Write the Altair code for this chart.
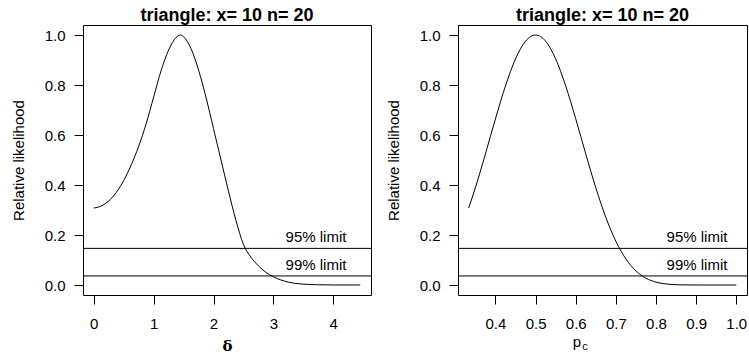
import altair as alt
import pandas as pd

# Left panel: relative likelihood as a function of delta
delta = [0.0, 0.125, 0.25, 0.375, 0.5, 0.625, 0.75, 0.875, 1.0, 1.125, 1.25, 1.375,
         1.45, 1.5, 1.625, 1.75, 1.875, 2.0, 2.125, 2.25, 2.375, 2.5, 2.625, 2.75,
         2.875, 3.0, 3.25, 3.5, 3.75, 4.0, 4.25, 4.45]
rl_delta = [0.308, 0.316, 0.336, 0.370, 0.418, 0.480, 0.555, 0.645, 0.752, 0.858,
            0.940, 0.990, 1.0, 0.993, 0.945, 0.860, 0.750, 0.625, 0.500, 0.375,
            0.258, 0.162, 0.111, 0.0766, 0.0505, 0.0328, 0.0115, 0.0034, 0.0009,
            0.0002, 0.00004, 0.00001]

# Right panel: relative likelihood as a function of pc
pc = [0.3333, 0.35, 0.375, 0.4, 0.425, 0.45, 0.475, 0.5, 0.525, 0.55, 0.575, 0.6,
      0.625, 0.65, 0.675, 0.7, 0.725, 0.75, 0.775, 0.8, 0.825, 0.85, 0.875, 0.9,
      0.95, 1.0]
rl_pc = [0.308, 0.389, 0.5245, 0.6648, 0.7965, 0.9044, 0.9753, 1.0, 0.9753, 0.9044,
         0.7965, 0.6648, 0.5245, 0.389, 0.2707, 0.1749, 0.1041, 0.0563, 0.02725,
         0.01153, 0.004125, 0.001191, 0.000257, 0.0000366, 0.0, 0.0]

limit_names = ["95% limit", "99% limit"]
limit_values = [0.1465, 0.0362]
title_text = "triangle: x= 10 n= 20"
y_ticks = [0.0, 0.2, 0.4, 0.6, 0.8, 1.0]
x_ticks_left = [0, 1, 2, 3, 4]
x_ticks_right = [0.4, 0.5, 0.6, 0.7, 0.8, 0.9, 1.0]

FONT = "Liberation Sans"

df_left = pd.DataFrame({"x": delta, "y": rl_delta})
df_right = pd.DataFrame({"x": pc, "y": rl_pc})
df_lim_left = pd.DataFrame({"name": limit_names, "y": limit_values, "xl": [4.22, 4.22]})
df_lim_right = pd.DataFrame({"name": limit_names, "y": limit_values, "xl": [0.978, 0.978]})

yscale = alt.Scale(domain=[-0.04, 1.04], nice=False, zero=False)
yaxis = alt.Axis(values=y_ticks, format=".1f", title="Relative likelihood",
                 labelPadding=9, titlePadding=18)


def panel(df, dflim, xdomain, xticks, xfmt, xtitle, w, extra=None):
    xscale = alt.Scale(domain=xdomain, nice=False, zero=False)
    axargs = dict(values=xticks, format=xfmt, labelPadding=12)
    if xtitle:
        axargs.update(title=xtitle, titlePadding=7, titleFont="DejaVu Serif",
                      titleFontWeight="bold", titleFontSize=15)
    else:
        axargs.update(title=None)
    xaxis = alt.Axis(**axargs)
    curve = alt.Chart(df).mark_line(color="black", strokeWidth=1, interpolate="monotone").encode(
        x=alt.X("x:Q", scale=xscale, axis=xaxis),
        y=alt.Y("y:Q", scale=yscale, axis=yaxis),
    )
    rules = alt.Chart(dflim).mark_rule(color="black", strokeWidth=1).encode(
        y=alt.Y("y:Q", scale=yscale),
    )
    labels = alt.Chart(dflim).mark_text(align="right", baseline="bottom", dy=-3,
                                        font=FONT, fontSize=15, color="black").encode(
        x=alt.X("xl:Q", scale=xscale),
        y=alt.Y("y:Q", scale=yscale),
        text="name:N",
    )
    layers = [curve, rules, labels] + (extra or [])
    return alt.layer(*layers).properties(
        width=w, height=270,
        title=alt.TitleParams(title_text, fontSize=18, fontWeight="bold", font=FONT,
                              anchor="middle", offset=0, color="black"),
    )


left = panel(df_left, df_lim_left, [-0.18, 4.63], x_ticks_left, "d", "δ", 288)

# x-axis title "p" with subscript "c" for the right panel
pc_title = pd.DataFrame({"t": ["p"]})
pc_sub = pd.DataFrame({"t": ["c"]})
p_mark = alt.Chart(pc_title).mark_text(font=FONT, fontSize=15, color="black",
                                       baseline="alphabetic", align="center").encode(
    x=alt.value(119), y=alt.value(322), text="t:N")
c_mark = alt.Chart(pc_sub).mark_text(font=FONT, fontSize=11, color="black",
                                     baseline="alphabetic", align="center").encode(
    x=alt.value(127), y=alt.value(325), text="t:N")

right = panel(df_right, df_lim_right, [0.3067, 1.0267], x_ticks_right, ".1f", None, 289,
              extra=[p_mark, c_mark])

chart = alt.hconcat(left, right, spacing=87, bounds="flush").configure_view(
    stroke="black", strokeWidth=1
).configure_axis(
    domain=False, grid=False, tickColor="black", tickSize=9, tickWidth=1,
    labelFont=FONT, labelFontSize=15, labelColor="black",
    titleFont=FONT, titleFontSize=15, titleFontWeight="normal", titleColor="black",
).properties(background="white", padding={"left": 10, "top": 6, "right": 0, "bottom": 0})

chart.save("out.html", embed_options={"renderer": "svg", "actions": False})
